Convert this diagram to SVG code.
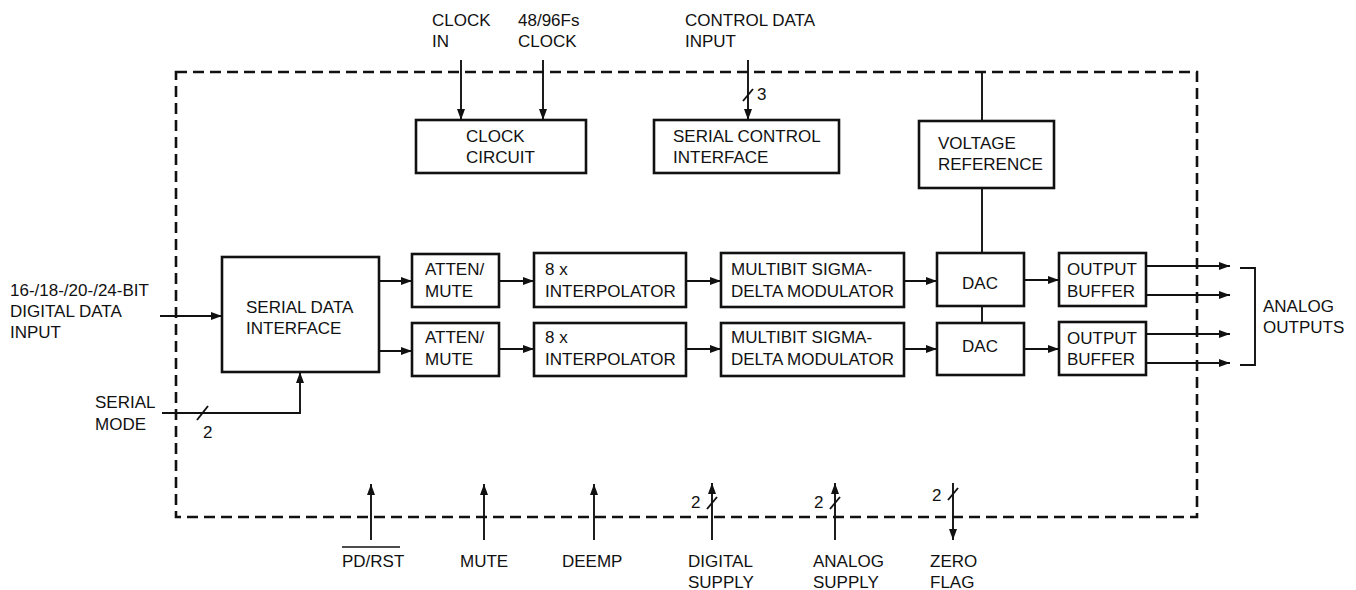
<svg xmlns="http://www.w3.org/2000/svg" width="1356" height="590" viewBox="0 0 1356 590">
<style>
text{font-family:"Liberation Sans",Arial,sans-serif;font-size:17px;fill:#111}
.box{fill:#fff;stroke:#111;stroke-width:2.6}
.ln{fill:none;stroke:#111;stroke-width:1.9}
.arr{fill:none;stroke:#111;stroke-width:1.9;marker-end:url(#ah)}
.border{fill:none;stroke:#111;stroke-width:2.6;stroke-dasharray:11 6}
</style>
<defs>
<marker id="ah" markerUnits="userSpaceOnUse" markerWidth="12" markerHeight="10" refX="11" refY="4" orient="auto">
<path d="M0,0 L11,4 L0,8 Z" fill="#111"/>
</marker>
</defs>
<rect x="176" y="72" width="1021" height="445" class="border"/>

<g id="connectors">
<line x1="461" y1="60" x2="461" y2="120" class="arr"/>
<line x1="543" y1="60" x2="543" y2="120" class="arr"/>
<line x1="748" y1="60" x2="748" y2="120" class="arr"/>
<line x1="743" y1="101" x2="753" y2="89" class="ln"/>
<line x1="982" y1="72" x2="982" y2="121" class="ln"/>
<line x1="982" y1="188" x2="982" y2="253" class="ln"/>
<line x1="982" y1="306" x2="982" y2="323" class="ln"/>
<line x1="160" y1="316" x2="222" y2="316" class="arr"/>
<polyline points="162,413 300,413 300,372" class="arr"/>
<line x1="197" y1="420" x2="208" y2="406" class="ln"/>
<line x1="379" y1="281" x2="412" y2="281" class="arr"/>
<line x1="379" y1="351" x2="412" y2="351" class="arr"/>
<line x1="499" y1="281" x2="534" y2="281" class="arr"/>
<line x1="499" y1="349" x2="534" y2="349" class="arr"/>
<line x1="686" y1="281" x2="721" y2="281" class="arr"/>
<line x1="686" y1="349" x2="721" y2="349" class="arr"/>
<line x1="904" y1="281" x2="937" y2="281" class="arr"/>
<line x1="904" y1="349" x2="937" y2="349" class="arr"/>
<line x1="1024" y1="280" x2="1059" y2="280" class="arr"/>
<line x1="1024" y1="349" x2="1059" y2="349" class="arr"/>
<line x1="1146" y1="266" x2="1230" y2="266" class="arr"/>
<line x1="1146" y1="295" x2="1230" y2="295" class="arr"/>
<line x1="1146" y1="334" x2="1230" y2="334" class="arr"/>
<line x1="1146" y1="363" x2="1230" y2="363" class="arr"/>
<path d="M1240,268 H1255 V365 H1240" class="ln"/>
<line x1="371" y1="540" x2="371" y2="484" class="arr"/>
<line x1="484" y1="540" x2="484" y2="484" class="arr"/>
<line x1="594" y1="540" x2="594" y2="484" class="arr"/>
<line x1="712" y1="540" x2="712" y2="483" class="arr"/>
<line x1="707" y1="509" x2="717" y2="497" class="ln"/>
<line x1="835" y1="540" x2="835" y2="483" class="arr"/>
<line x1="830" y1="509" x2="840" y2="497" class="ln"/>
<line x1="953" y1="483" x2="953" y2="540" class="arr"/>
<line x1="948" y1="500" x2="958" y2="488" class="ln"/>
</g>

<g id="clock-circuit">
<rect x="416" y="120" width="170" height="53" class="box"/>
<text x="466" y="142">CLOCK</text>
<text x="466" y="163">CIRCUIT</text>
</g>
<g id="serial-control">
<rect x="654" y="120" width="185" height="53" class="box"/>
<text x="673" y="142">SERIAL CONTROL</text>
<text x="673" y="163">INTERFACE</text>
</g>
<g id="voltage-reference">
<rect x="919" y="121" width="135" height="67" class="box"/>
<text x="938" y="149">VOLTAGE</text>
<text x="938" y="170">REFERENCE</text>
</g>
<g id="serial-data">
<rect x="222" y="257" width="157" height="115" class="box"/>
<text x="246" y="313">SERIAL DATA</text>
<text x="246" y="334">INTERFACE</text>
</g>
<g id="atten1">
<rect x="412" y="254" width="87" height="53" class="box"/>
<text x="425" y="275">ATTEN/</text>
<text x="425" y="297">MUTE</text>
</g>
<g id="atten2">
<rect x="412" y="323" width="87" height="53" class="box"/>
<text x="425" y="343">ATTEN/</text>
<text x="425" y="365">MUTE</text>
</g>
<g id="interp1">
<rect x="534" y="253" width="152" height="54" class="box"/>
<text x="545" y="275">8 x</text>
<text x="545" y="297">INTERPOLATOR</text>
</g>
<g id="interp2">
<rect x="534" y="323" width="152" height="53" class="box"/>
<text x="545" y="343">8 x</text>
<text x="545" y="365">INTERPOLATOR</text>
</g>
<g id="mod1">
<rect x="721" y="253" width="183" height="54" class="box"/>
<text x="731" y="275">MULTIBIT SIGMA-</text>
<text x="731" y="297">DELTA MODULATOR</text>
</g>
<g id="mod2">
<rect x="721" y="323" width="183" height="53" class="box"/>
<text x="731" y="343">MULTIBIT SIGMA-</text>
<text x="731" y="365">DELTA MODULATOR</text>
</g>
<g id="dac1">
<rect x="937" y="253" width="87" height="53" class="box"/>
<text x="980" y="289" text-anchor="middle">DAC</text>
</g>
<g id="dac2">
<rect x="937" y="323" width="87" height="52" class="box"/>
<text x="980" y="352" text-anchor="middle">DAC</text>
</g>
<g id="buffer1">
<rect x="1059" y="253" width="87" height="53" class="box"/>
<text x="1067" y="275">OUTPUT</text>
<text x="1067" y="297">BUFFER</text>
</g>
<g id="buffer2">
<rect x="1059" y="322" width="87" height="53" class="box"/>
<text x="1067" y="344">OUTPUT</text>
<text x="1067" y="365">BUFFER</text>
</g>

<g id="labels">
<text x="432" y="26">CLOCK</text>
<text x="432" y="47">IN</text>
<text x="518" y="26">48/96Fs</text>
<text x="518" y="47">CLOCK</text>
<text x="685" y="26">CONTROL DATA</text>
<text x="685" y="47">INPUT</text>
<text x="757" y="100">3</text>
<text x="10" y="296">16-/18-/20-/24-BIT</text>
<text x="10" y="317">DIGITAL DATA</text>
<text x="10" y="338">INPUT</text>
<text x="95" y="408">SERIAL</text>
<text x="95" y="430">MODE</text>
<text x="203" y="438">2</text>
<text x="1263" y="312">ANALOG</text>
<text x="1263" y="333">OUTPUTS</text>
<text x="342" y="567">PD/RST</text>
<line x1="342" y1="547" x2="400" y2="547" stroke="#111" stroke-width="1.3"/>
<text x="460" y="567">MUTE</text>
<text x="562" y="567">DEEMP</text>
<text x="691" y="508">2</text>
<text x="814" y="508">2</text>
<text x="932" y="501">2</text>
<text x="688" y="567">DIGITAL</text>
<text x="688" y="588">SUPPLY</text>
<text x="813" y="567">ANALOG</text>
<text x="813" y="588">SUPPLY</text>
<text x="930" y="567">ZERO</text>
<text x="930" y="588">FLAG</text>
</g>
</svg>
